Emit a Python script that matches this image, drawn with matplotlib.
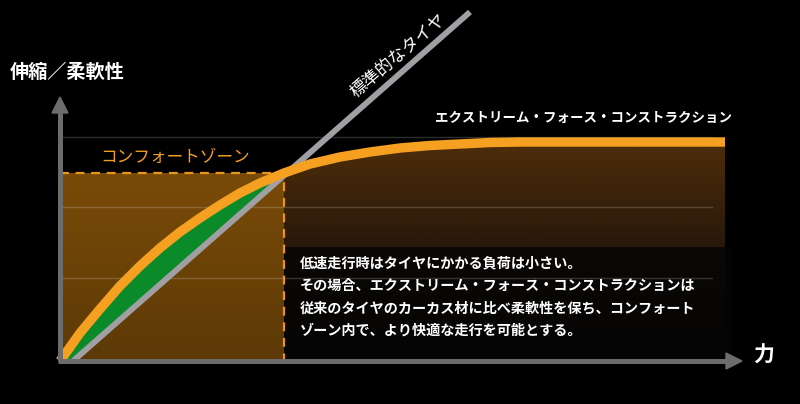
import numpy as np
import matplotlib
matplotlib.use("Agg")
import matplotlib.pyplot as plt
from matplotlib.patches import Polygon, Rectangle
from matplotlib.colors import LinearSegmentedColormap

plt.rcParams['font.family'] = ['Noto Sans CJK JP', 'DejaVu Sans']

# curve of the "extreme force construction" tyre (force vs flex)
curve_x = np.array([0, 8, 20, 40, 60, 80, 100, 120, 140, 160, 180, 200, 224,
                    250, 280, 310, 340, 370, 400, 430, 460, 665])
curve_y = np.array([0, 11, 28, 52, 75, 95, 113, 129, 143, 156, 168, 178, 188,
                    197, 204, 209, 213, 215.5, 217, 218.5, 219, 219])
# standard tyre: straight line
std_x = [13, 410]
std_y = [0, 349]
# comfort zone box
zone_x = 224
zone_y = 188
# grid levels
grid_y = [83, 154, 224]
grid_x_end = 652
# arrows
yaxis_top = 264
xaxis_end = 682

box_lines = [
    "低速走行時はタイヤにかかる負荷は小さい。",
    "その場合、エクストリーム・フォース・コンストラクションは",
    "従来のタイヤのカーカス材に比べ柔軟性を保ち、コンフォート",
    "ゾーン内で、より快適な走行を可能とする。",
]

ORANGE = '#f5a021'

fig = plt.figure(figsize=(8, 4.04), dpi=100, facecolor='black')
ax = fig.add_axes([0, 0, 1, 1])
ax.set_facecolor('black')
ax.axis('off')

# comfort zone fill (gradient)
zone_cmap = LinearSegmentedColormap.from_list('zone', ['#5c3906', '#7a4b08'])
grad = np.linspace(0, 1, 100).reshape(-1, 1)
ax.imshow(grad, extent=[0, zone_x, 0, zone_y], origin='lower', aspect='auto',
          cmap=zone_cmap, zorder=1)

# brown gradient under curve, right of zone
mask = curve_x >= zone_x
px = np.concatenate([curve_x[mask], [curve_x[-1], zone_x]])
py = np.concatenate([curve_y[mask], [0, 0]])
poly = Polygon(np.column_stack([px, py]), closed=True, facecolor='none', edgecolor='none')
ax.add_patch(poly)
under_cmap = LinearSegmentedColormap.from_list('under', [(0, '#080605'), (0.45, '#22150a'), (1, '#4e2d0a')])
im = ax.imshow(grad, extent=[zone_x, curve_x[-1], 0, curve_y.max()], origin='lower',
               aspect='auto', cmap=under_cmap, zorder=1)
im.set_clip_path(poly)

# text box background
ax.add_patch(Rectangle((zone_x, 0), 448, 114, facecolor='#050505', alpha=0.82,
                       edgecolor='none', zorder=2))

# grid lines
for gy in grid_y:
    ax.plot([0, grid_x_end], [gy, gy], color='white', alpha=0.18, lw=1, zorder=2.5)

# green area between curve and standard line
sel = curve_x <= zone_x
gx = curve_x[sel]
slope = (std_y[1] - std_y[0]) / (std_x[1] - std_x[0])
line_y = np.clip(slope * (gx - std_x[0]), 0, None)
ax.fill_between(gx, line_y, curve_y[sel], color='#0b8a2a', zorder=3, lw=0)

# comfort zone dashed border
ax.plot([0, zone_x, zone_x], [zone_y, zone_y, 0], color='#e8961a', lw=1.6,
        dashes=(4, 3), zorder=3.5)

# standard tyre line
ax.plot(std_x, std_y, color='#a0a0a4', lw=4.2, solid_capstyle='butt', zorder=4)

# extreme force curve
ax.plot(curve_x, curve_y, color=ORANGE, lw=6.8, solid_capstyle='butt',
        solid_joinstyle='round', zorder=5)

# axes with arrows
AX = '#6c6c6c'
ax.plot([0, 0], [0, yaxis_top - 10], color=AX, lw=3.6, zorder=6, solid_capstyle='butt')
ax.plot([-2, xaxis_end - 10], [0, 0], color=AX, lw=3.6, zorder=6, solid_capstyle='butt')
ax.add_patch(Polygon([[-8, yaxis_top - 16], [8, yaxis_top - 16], [0, yaxis_top]],
                     closed=True, color=AX, zorder=6))
ax.add_patch(Polygon([[xaxis_end - 16, -8], [xaxis_end - 16, 8], [xaxis_end, 0]],
                     closed=True, color=AX, zorder=6))

# labels
ax.text(-50, 289, "伸縮／柔軟性", color='white', fontsize=13.8, fontweight='bold',
        ha='left', va='center', zorder=7)
ax.text(xaxis_end + 22, 6, "力", color='white', fontsize=15, fontweight='bold',
        ha='center', va='center', zorder=7)
ax.text(40, 204, "コンフォートゾーン", color=ORANGE, fontsize=12, ha='left',
        va='center', zorder=7)
ax.text(338, 306, "標準的なタイヤ", color='white', fontsize=12.3, rotation=40.4,
        rotation_mode='anchor', ha='center', va='center', zorder=7)
ax.text(375, 243, "エクストリーム・フォース・コンストラクション", color='white',
        fontsize=9.7, fontweight='bold', ha='left', va='center', zorder=7)
for i, line in enumerate(box_lines):
    ax.text(240, 98 - i * 22.7, line, color='white', fontsize=10.2,
            fontweight='bold', ha='left', va='center', zorder=7)

ax.set_xlim(-60, 740)
ax.set_ylim(-43, 361)

fig.savefig('out.png', dpi=100, facecolor='black')
